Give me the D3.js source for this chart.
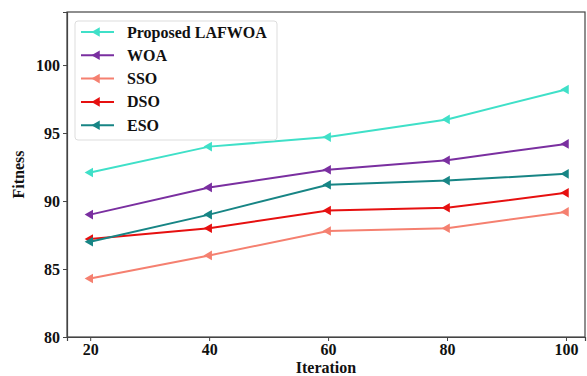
<!DOCTYPE html>
<html>
<head>
<meta charset="utf-8">
<script src="https://cdn.jsdelivr.net/npm/d3@7"></script>
<style>
  body { margin: 0; background: #fff; }
  svg text { font-family: "Liberation Serif", "Times New Roman", "DejaVu Serif", serif !important; font-weight: bold; }
</style>
</head>
<body>
<svg id="chart"></svg>
<script>
const iterations = [20, 40, 60, 80, 100];
const proposed = [92.1, 94.0, 94.7, 96.0, 98.2];
const woa = [89.0, 91.0, 92.3, 93.0, 94.2];
const sso = [84.3, 86.0, 87.8, 88.0, 89.2];
const dso = [87.2, 88.0, 89.3, 89.5, 90.6];
const eso = [87.0, 89.0, 91.2, 91.5, 92.0];
const xTicks = [20, 40, 60, 80, 100];
const yTicks = [80, 85, 90, 95, 100];

const series = [
  { name: 'Proposed LAFWOA', values: proposed, color: '#3fe0c8' },
  { name: 'WOA', values: woa, color: '#7a2fa0' },
  { name: 'SSO', values: sso, color: '#f58070' },
  { name: 'DSO', values: dso, color: '#e61010' },
  { name: 'ESO', values: eso, color: '#178585' }
];

const width = 587;
const height = 376;
const margin = { top: 12, right: 2, bottom: 39, left: 67 };

const x = d3.scaleLinear()
  .domain([16.1, 103.2])
  .range([margin.left, width - margin.right]);
const y = d3.scaleLinear()
  .domain([80, 103.9])
  .range([height - margin.bottom, margin.top]);

const svg = d3.select('#chart')
  .attr('width', width)
  .attr('height', height);

// frame
svg.append('rect')
  .attr('x', margin.left)
  .attr('y', margin.top)
  .attr('width', width - margin.left - margin.right)
  .attr('height', height - margin.top - margin.bottom)
  .attr('fill', 'none')
  .attr('stroke', '#444')
  .attr('stroke-width', 1.2);

const xAxis = svg.append('g')
  .attr('transform', 'translate(0,' + (height - margin.bottom) + ')')
  .call(d3.axisBottom(x).tickValues(xTicks).tickSize(4).tickPadding(3));
const yAxis = svg.append('g')
  .attr('transform', 'translate(' + margin.left + ',0)')
  .call(d3.axisLeft(y).tickValues(yTicks).tickSize(4).tickPadding(3));

[xAxis, yAxis].forEach(g => {
  g.attr('font-family', null);
  g.select('.domain').attr('stroke', '#444').attr('stroke-width', 1.2);
  g.selectAll('.tick line').attr('stroke', '#444');
  g.selectAll('.tick text')
    .attr('fill', '#111')
    .style('font-size', '16px');
});

svg.append('text')
  .attr('x', (margin.left + width - margin.right) / 2)
  .attr('y', 373)
  .attr('text-anchor', 'middle')
  .style('font-size', '16px')
  .attr('fill', '#111')
  .text('Iteration');

svg.append('text')
  .attr('transform', 'translate(24,' + ((margin.top + height - margin.bottom) / 2) + ') rotate(-90)')
  .attr('text-anchor', 'middle')
  .style('font-size', '16px')
  .attr('fill', '#111')
  .text('Fitness');

const line = d3.line()
  .x((d, i) => x(iterations[i]))
  .y(d => y(d));

const tri = d3.symbol().type(d3.symbolTriangle).size(40);

series.forEach(s => {
  svg.append('path')
    .datum(s.values)
    .attr('d', line)
    .attr('fill', 'none')
    .attr('stroke', s.color)
    .attr('stroke-width', 2);
  svg.selectAll(null)
    .data(s.values)
    .enter()
    .append('path')
    .attr('d', tri)
    .attr('transform', (d, i) => 'translate(' + x(iterations[i]) + ',' + y(d) + ') rotate(-90)')
    .attr('fill', s.color);
});

// legend
const legend = svg.append('g');
legend.append('rect')
  .attr('x', 75)
  .attr('y', 21)
  .attr('width', 202)
  .attr('height', 119)
  .attr('rx', 3)
  .attr('fill', '#fff')
  .attr('stroke', '#ddd');

series.forEach((s, i) => {
  const ly = 32 + i * 23.3;
  legend.append('line')
    .attr('x1', 81).attr('x2', 114)
    .attr('y1', ly).attr('y2', ly)
    .attr('stroke', s.color)
    .attr('stroke-width', 2);
  legend.append('path')
    .attr('d', tri)
    .attr('transform', 'translate(97,' + ly + ') rotate(-90)')
    .attr('fill', s.color);
  legend.append('text')
    .attr('x', 127)
    .attr('y', ly + 5.5)
    .style('font-size', '16px')
    .attr('fill', '#111')
    .text(s.name);
});
</script>
</body>
</html>
